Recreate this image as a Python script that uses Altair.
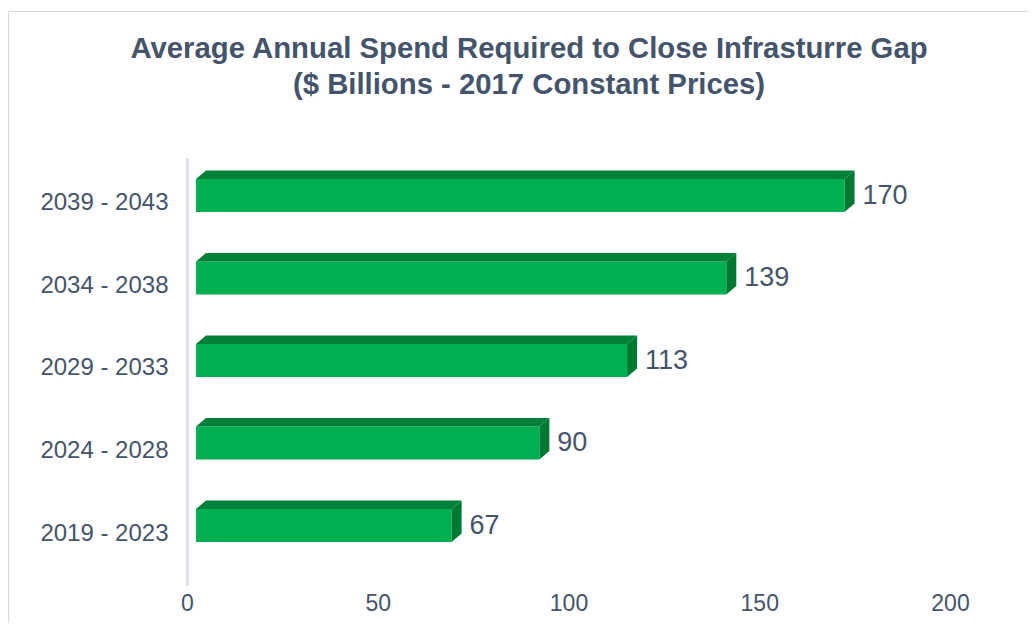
import json
import altair as alt
import pandas as pd

# ---- data ----
categories = ["2019 - 2023", "2024 - 2028", "2029 - 2033", "2034 - 2038", "2039 - 2043"]
values = [67, 90, 113, 139, 170]
x_ticks = [0, 50, 100, 150, 200]
title_lines = ["Average Annual Spend Required to Close Infrasturre Gap",
               "($ Billions - 2017 Constant Prices)"]

# ---- 3D bar geometry (in scale units) ----
OFF = 2.36   # front face shift to the right
DX = 2.62    # depth in x
C = 0.09     # front face centre above the category position
HH = 0.20    # half height of the front face
DY = 0.103   # depth in y

FONT = "Liberation Sans"
TXT = "#44546A"
FRONT = "#00B050"
TOP = "#008038"
SIDE = "#007A33"

front_rows, face_rows, label_rows = [], [], []
for i, (cat, v) in enumerate(zip(categories, values)):
    yb = i + C - HH
    yt = i + C + HH
    front_rows.append({"x": OFF, "x2": v + OFF, "y": yb, "y2": yt})
    fid = f"top{i}"
    face_rows += [
        {"id": fid, "face": "top", "x": OFF, "y": yt, "y2": yt},
        {"id": fid, "face": "top", "x": OFF + DX, "y": yt, "y2": yt + DY},
        {"id": fid, "face": "top", "x": v + OFF, "y": yt, "y2": yt + DY},
        {"id": fid, "face": "top", "x": v + OFF + DX, "y": yt + DY, "y2": yt + DY},
    ]
    sid = f"side{i}"
    face_rows += [
        {"id": sid, "face": "side", "x": v + OFF, "y": yb, "y2": yt},
        {"id": sid, "face": "side", "x": v + OFF + DX, "y": yb + DY, "y2": yt + DY},
    ]
    label_rows.append({"x": v + OFF + DX, "y": i + C, "label": str(v)})

front_df = pd.DataFrame(front_rows)
face_df = pd.DataFrame(face_rows)
label_df = pd.DataFrame(label_rows)
title_df = pd.DataFrame({"line": title_lines, "n": [0, 1]})

xscale = alt.Scale(domain=[0, 200], nice=False, zero=False)
yscale = alt.Scale(domain=[-0.63, 4.545], nice=False, zero=False)

label_expr = json.dumps(categories) + "[datum.value]"

x_axis = alt.Axis(values=x_ticks, domain=False, ticks=False, grid=False,
                  labelFlush=False, labelPadding=7, labelFontSize=23,
                  labelColor=TXT, labelFont=FONT, title=None)
y_axis = alt.Axis(values=list(range(len(categories))), labelExpr=label_expr,
                  domain=True, domainColor="#DADDE6", domainWidth=2.5,
                  ticks=False, grid=False, labelPadding=19, labelFontSize=24,
                  labelColor=TXT, labelFont=FONT, title=None)

front = alt.Chart(front_df).mark_rect(color=FRONT).encode(
    x=alt.X("x:Q", scale=xscale, axis=x_axis),
    x2="x2:Q",
    y=alt.Y("y:Q", scale=yscale, axis=y_axis),
    y2="y2:Q",
)

faces = alt.Chart(face_df).mark_area(orient="vertical", interpolate="linear").encode(
    x=alt.X("x:Q", scale=xscale),
    y=alt.Y("y:Q", scale=yscale, stack=None),
    y2="y2:Q",
    detail="id:N",
    color=alt.Color("face:N", scale=alt.Scale(domain=["top", "side"], range=[TOP, SIDE]),
                    legend=None),
)

labels = alt.Chart(label_df).mark_text(
    align="left", baseline="middle", dx=8, fontSize=27, font=FONT, color=TXT
).encode(
    x=alt.X("x:Q", scale=xscale),
    y=alt.Y("y:Q", scale=yscale),
    text="label:N",
)

title1 = alt.Chart(title_df[title_df.n == 0]).mark_text(
    align="center", baseline="middle", fontSize=29.3, fontWeight="bold",
    font=FONT, color=TXT
).encode(x=alt.value(342), y=alt.value(-109), text="line:N")
title2 = alt.Chart(title_df[title_df.n == 1]).mark_text(
    align="center", baseline="middle", fontSize=29.3, fontWeight="bold",
    font=FONT, color=TXT
).encode(x=alt.value(342), y=alt.value(-73), text="line:N")

border = alt.Chart(pd.DataFrame({"a": [0]})).mark_rect(
    fill="transparent", stroke="#D9DDE3", strokeWidth=1.2
).encode(
    x=alt.value(-178.5), x2=alt.value(900), y=alt.value(-146.5), y2=alt.value(520)
)

chart = alt.layer(border, front, faces, labels, title1, title2).properties(
    width=763,
    height=427,
    autosize=alt.AutoSizeParams(type="none"),
    padding={"left": 179, "top": 150, "right": 78, "bottom": 38},
).configure(background="white").configure_view(strokeWidth=0, stroke="transparent")

chart.save("out.html", embed_options={"renderer": "svg", "actions": False})
